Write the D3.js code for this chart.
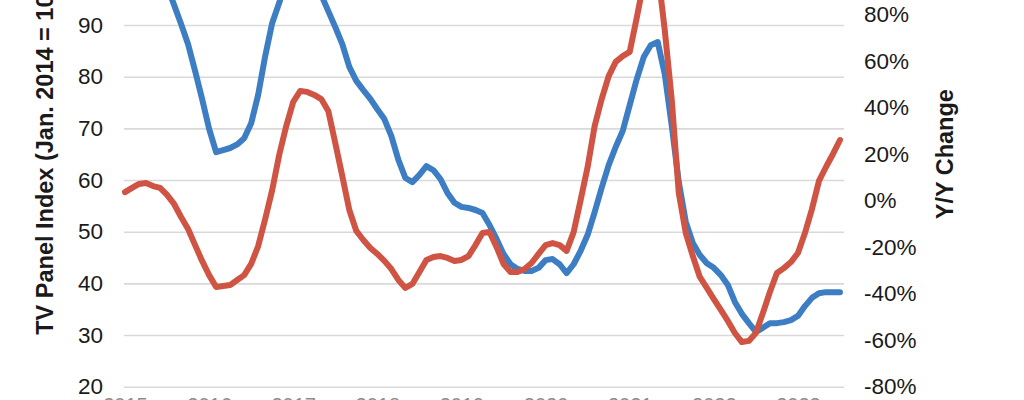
<!DOCTYPE html>
<html>
<head>
<meta charset="utf-8">
<script src="https://cdn.jsdelivr.net/npm/d3@7"></script>
<style>
  html, body { margin: 0; padding: 0; background: #fff; }
  svg { display: block; }
  text { font-family: "Liberation Sans", Arial, sans-serif; }
</style>
</head>
<body>
<div id="chart"></div>
<script>
// monthly series, one point per month; a year label every 12 months
var xLabels = ["2015", "2016", "2017", "2018", "2019", "2020", "2021", "2022", "2023"];

// TV panel index, Jan. 2014 = 100 (left axis)
var panelIndex = [
	108, 107.5, 106.5, 105, 103, 100.5, 97.5, 93.9, 90.2, 86.3,
	81.1, 75.7, 69.9, 65.4, 65.8, 66.2, 66.9, 68.1, 71.0, 76.5,
	84.0, 90.4, 94.3, 98.5, 100, 99, 98, 97, 95.8, 92.7,
	89.6, 86.3, 81.9, 79.2, 77.4, 75.7, 73.7, 71.8, 68.5, 63.9,
	60.4, 59.6, 61.0, 62.7, 61.9, 60.2, 57.5, 55.6, 54.8, 54.6,
	54.2, 53.6, 51.3, 48.6, 45.7, 43.7, 42.8, 42.4, 42.4, 43.0,
	44.5, 44.7, 43.7, 42.0, 43.7, 46.3, 49.4, 53.8, 58.5, 62.9,
	66.4, 69.5, 74.5, 79.5, 83.8, 86.1, 86.7, 80.5, 70.5, 59.6,
	51.9, 47.8, 45.5, 43.9, 43.0, 41.6, 39.7, 36.4, 34.1, 32.3,
	30.6, 31.4, 32.3, 32.3, 32.5, 32.9, 33.7, 35.6, 37.2, 38.1,
	38.3, 38.3, 38.3
];

// Y/Y change in percent (right axis)
var yoyChange = [
	3.7, 5.5, 7.2, 7.6, 6.3, 5.5, 2.5, -1.4, -7.0, -12.2,
	-19.1, -25.9, -32.0, -37.1, -36.7, -36.3, -34.1, -32.0, -27.2, -19.5,
	-7.9, 4.6, 19.7, 32.1, 42.5, 47.2, 46.8, 45.5, 43.7, 38.6,
	24.8, 10.6, -4.0, -13.0, -16.9, -20.3, -22.9, -25.9, -29.4, -34.1,
	-37.5, -35.8, -30.7, -25.5, -24.2, -23.8, -24.6, -25.9, -25.5, -23.8,
	-19.1, -13.9, -13.5, -19.9, -27.2, -30.7, -30.7, -29.4, -26.8, -22.9,
	-19.1, -18.2, -19.1, -21.6, -13.5, 0.3, 14.5, 32.1, 43.7, 53.6,
	59.7, 62.2, 64.0, 78.6, 94, 103, 99, 73.4, 43.3, 3.3,
	-13.9, -23.8, -32.8, -37.5, -42.3, -47.0, -51.7, -56.9, -60.8, -60.3,
	-56.9, -48.3, -39.3, -31.1, -29.0, -26.4, -22.5, -13.9, -3.6, 8.5,
	14.5, 20.1, 26.1
];

var leftTicks = d3.range(20, 111, 10);
var rightTicks = d3.range(-80, 121, 20);

var w = 1024,
	h = 400;
var plotLeft = 124,
	plotRight = 844,
	plotTop = -78.3,
	plotBottom = 386.7;

var blue = "#3c7dc4";
var red = "#cf5443";
var grid_color = "#d9d9d9";
var label_color = "#1a1a1a";
var line_width = 6;

var svg = d3.select("#chart").append("svg")
	.attr("width", w)
	.attr("height", h);

var x = d3.scaleLinear()
	.domain([0, panelIndex.length - 1])
	.range([125, 840]);

var yLeft = d3.scaleLinear()
	.domain([20, 110])
	.range([plotBottom, plotTop]);

var yRight = d3.scaleLinear()
	.domain([-80, 120])
	.range([plotBottom, plotTop]);

// left axis + gridlines
var leftAxis = svg.append("g")
	.attr("transform", "translate(" + plotLeft + ",0)")
	.call(d3.axisLeft(yLeft)
		.tickValues(leftTicks)
		.tickSize(-(plotRight - plotLeft))
		.tickPadding(21));
leftAxis.select(".domain").remove();
leftAxis.selectAll("line")
	.attr("stroke", grid_color)
	.attr("stroke-width", 1.6);
leftAxis.selectAll("text")
	.style("font-size", "22.5px")
	.attr("fill", label_color);

// right axis
var rightAxis = svg.append("g")
	.attr("transform", "translate(" + plotRight + ",0)")
	.call(d3.axisRight(yRight)
		.tickValues(rightTicks)
		.tickSize(0)
		.tickPadding(20)
		.tickFormat(function(d) { return d + "%"; }));
rightAxis.select(".domain").remove();
rightAxis.selectAll("text")
	.style("font-size", "22.5px")
	.attr("fill", label_color);

// bottom axis (only the very top of the labels is inside the picture)
var bottomAxis = svg.append("g")
	.attr("transform", "translate(0," + plotBottom + ")")
	.call(d3.axisBottom(x)
		.tickValues(xLabels.map(function(d, i) { return i * 12; }))
		.tickSize(0)
		.tickPadding(11.5)
		.tickFormat(function(d, i) { return xLabels[i]; }));
bottomAxis.select(".domain").remove();
bottomAxis.selectAll("text")
	.style("font-size", "20px")
	.attr("fill", "#8c8c8c");

// lines
var lineLeft = d3.line()
	.x(function(d, i) { return x(i); })
	.y(function(d) { return yLeft(d); });

var lineRight = d3.line()
	.x(function(d, i) { return x(i); })
	.y(function(d) { return yRight(d); });

svg.append("path")
	.datum(panelIndex)
	.attr("d", lineLeft)
	.attr("fill", "none")
	.attr("stroke", blue)
	.attr("stroke-width", line_width)
	.attr("stroke-linejoin", "round")
	.attr("stroke-linecap", "round");

svg.append("path")
	.datum(yoyChange)
	.attr("d", lineRight)
	.attr("fill", "none")
	.attr("stroke", red)
	.attr("stroke-width", line_width)
	.attr("stroke-linejoin", "round")
	.attr("stroke-linecap", "round");

// axis titles
var midY = (plotTop + plotBottom) / 2;

svg.append("text")
	.attr("transform", "translate(53," + midY + ") rotate(-90)")
	.attr("text-anchor", "middle")
	.style("font-size", "23.5px")
	.style("font-weight", "bold")
	.attr("fill", label_color)
	.text("TV Panel Index (Jan. 2014 = 100)");

svg.append("text")
	.attr("transform", "translate(953," + midY + ") rotate(-90)")
	.attr("text-anchor", "middle")
	.style("font-size", "23.5px")
	.style("font-weight", "bold")
	.attr("fill", label_color)
	.text("Y/Y Change");
</script>
</body>
</html>
